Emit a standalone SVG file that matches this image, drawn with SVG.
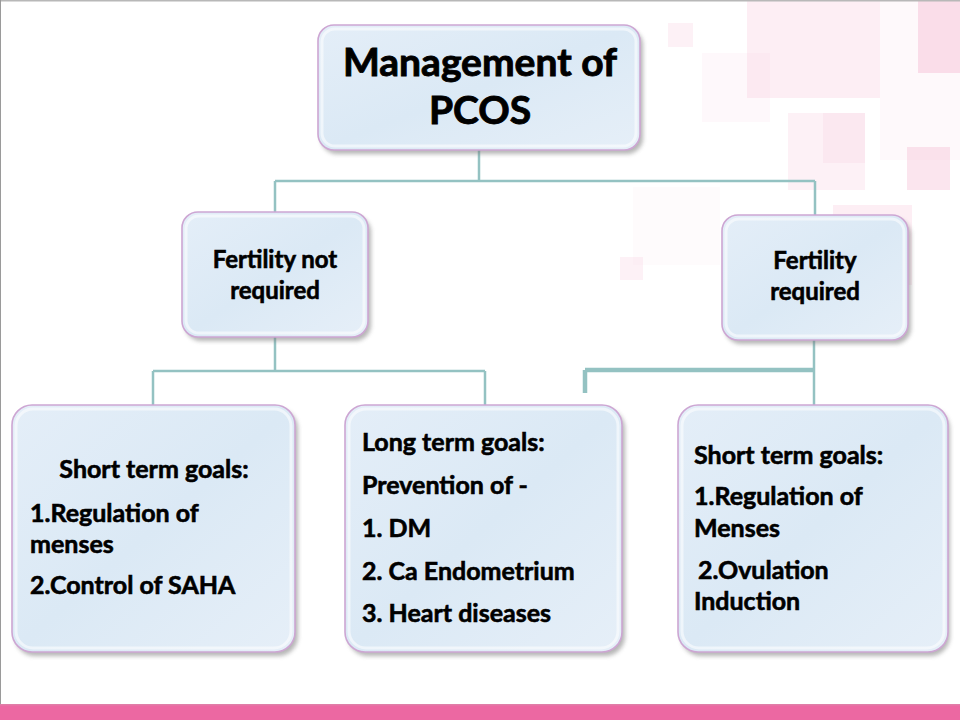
<svg xmlns="http://www.w3.org/2000/svg" width="960" height="720" viewBox="0 0 960 720">
<defs>
<style>
.box{fill:url(#bg);stroke:#cda6d3;stroke-width:1.6}
.inner{fill:none;stroke:#ffffff;stroke-opacity:0.55;stroke-width:3}
.shadow{fill:#7a7a7a;opacity:0.55;filter:url(#blur)}
.t{font-family:Lato,"Liberation Sans",sans-serif;font-weight:700;fill:#000;stroke:#000;stroke-width:0.6;font-size:25px}
.c{stroke:#94c2c2;stroke-width:2.5;fill:none}
.sq{fill:#f7c6da}
</style>
<linearGradient id="bg" x1="0" y1="0" x2="1" y2="1">
<stop offset="0" stop-color="#e4eef8"/>
<stop offset="0.5" stop-color="#dbe9f5"/>
<stop offset="1" stop-color="#e6eff8"/>
</linearGradient>
<filter id="blur" x="-10%" y="-10%" width="120%" height="120%"><feGaussianBlur stdDeviation="2"/></filter>
</defs>
<rect width="960" height="720" fill="#ffffff"/>
<g id="background">
<rect class="sq" x="747" y="0" width="133" height="98" opacity="0.3"/>
<rect class="sq" x="918" y="0" width="42" height="73" opacity="0.55"/>
<rect class="sq" x="668" y="23" width="25" height="24" opacity="0.25"/>
<rect class="sq" x="702" y="53" width="68" height="69" opacity="0.12"/>
<rect class="sq" x="788" y="113" width="77" height="77" opacity="0.25"/>
<rect class="sq" x="823" y="113" width="42" height="50" opacity="0.2"/>
<rect class="sq" x="907" y="147" width="43" height="43" opacity="0.45"/>
<rect class="sq" x="880" y="0" width="80" height="160" opacity="0.1"/>
<rect class="sq" x="833" y="205" width="79" height="80" opacity="0.3"/>
<rect class="sq" x="633" y="187" width="87" height="78" opacity="0.08"/>
<rect class="sq" x="620" y="257" width="23" height="23" opacity="0.25"/>
<rect x="0" y="0" width="960" height="1.5" fill="#b8b8b8"/>
<rect x="0" y="0" width="1" height="704" fill="#9a9a9a"/>
<rect x="0" y="704" width="960" height="16" fill="#ec68a2"/>
<rect x="0" y="704" width="960" height="1.5" fill="#e07ea8"/>
</g>
<g id="connectors">
<path class="c" d="M479 150V181M275 181H815M275 181V212M815 181V215"/>
<path class="c" d="M275 337V371M153 371H485M153 371V405M485 371V405"/>
<path class="c" d="M814 340V405"/>
<path class="c" d="M585 370H814M585 370V393" style="stroke-width:4.5"/>
</g>
<g id="root">
<rect class="shadow" x="321" y="29" width="322" height="125" rx="16"/>
<rect class="box" x="318" y="25" width="322" height="125" rx="16"/>
<rect class="inner" x="322" y="29" width="314" height="117" rx="13"/>
<text class="t" x="480" y="76" style="font-size:39px;stroke-width:0.9" text-anchor="middle">Management of</text>
<text class="t" x="480" y="124" style="font-size:39px;stroke-width:0.9" text-anchor="middle">PCOS</text>
</g>
<g id="not-required">
<rect class="shadow" x="185" y="216" width="186" height="125" rx="16"/>
<rect class="box" x="182" y="212" width="186" height="125" rx="16"/>
<rect class="inner" x="186" y="216" width="178" height="117" rx="13"/>
<text class="t" x="275" y="268" text-anchor="middle" style="font-size:24px">Fertility not</text>
<text class="t" x="275" y="299" text-anchor="middle" style="font-size:24px">required</text>
</g>
<g id="required">
<rect class="shadow" x="725" y="219" width="186" height="125" rx="16"/>
<rect class="box" x="722" y="215" width="186" height="125" rx="16"/>
<rect class="inner" x="726" y="219" width="178" height="117" rx="13"/>
<text class="t" x="815" y="269" text-anchor="middle" style="font-size:24px">Fertility</text>
<text class="t" x="815" y="300" text-anchor="middle" style="font-size:24px">required</text>
</g>
<g id="short-left">
<rect class="shadow" x="15" y="409" width="283" height="247" rx="20"/>
<rect class="box" x="12" y="405" width="283" height="247" rx="20"/>
<rect class="inner" x="16" y="409" width="275" height="239" rx="17"/>
<text class="t" x="154" y="478" text-anchor="middle">Short term goals:</text>
<text class="t" x="30" y="522">1.Regulation of</text>
<text class="t" x="30" y="553">menses</text>
<text class="t" x="30" y="594">2.Control of SAHA</text>
</g>
<g id="long-mid">
<rect class="shadow" x="348" y="409" width="277" height="247" rx="20"/>
<rect class="box" x="345" y="405" width="277" height="247" rx="20"/>
<rect class="inner" x="349" y="409" width="269" height="239" rx="17"/>
<text class="t" x="362" y="451">Long term goals:</text>
<text class="t" x="362" y="494">Prevention of -</text>
<text class="t" x="362" y="537">1. DM</text>
<text class="t" x="362" y="580">2. Ca Endometrium</text>
<text class="t" x="362" y="622">3. Heart diseases</text>
</g>
<g id="short-right">
<rect class="shadow" x="681" y="409" width="269" height="247" rx="20"/>
<rect class="box" x="678" y="405" width="270" height="247" rx="20"/>
<rect class="inner" x="682" y="409" width="262" height="239" rx="17"/>
<text class="t" x="694" y="464">Short term goals:</text>
<text class="t" x="694" y="505">1.Regulation of</text>
<text class="t" x="694" y="537">Menses</text>
<text class="t" x="698" y="579">2.Ovulation</text>
<text class="t" x="694" y="610">Induction</text>
</g>
</svg>
